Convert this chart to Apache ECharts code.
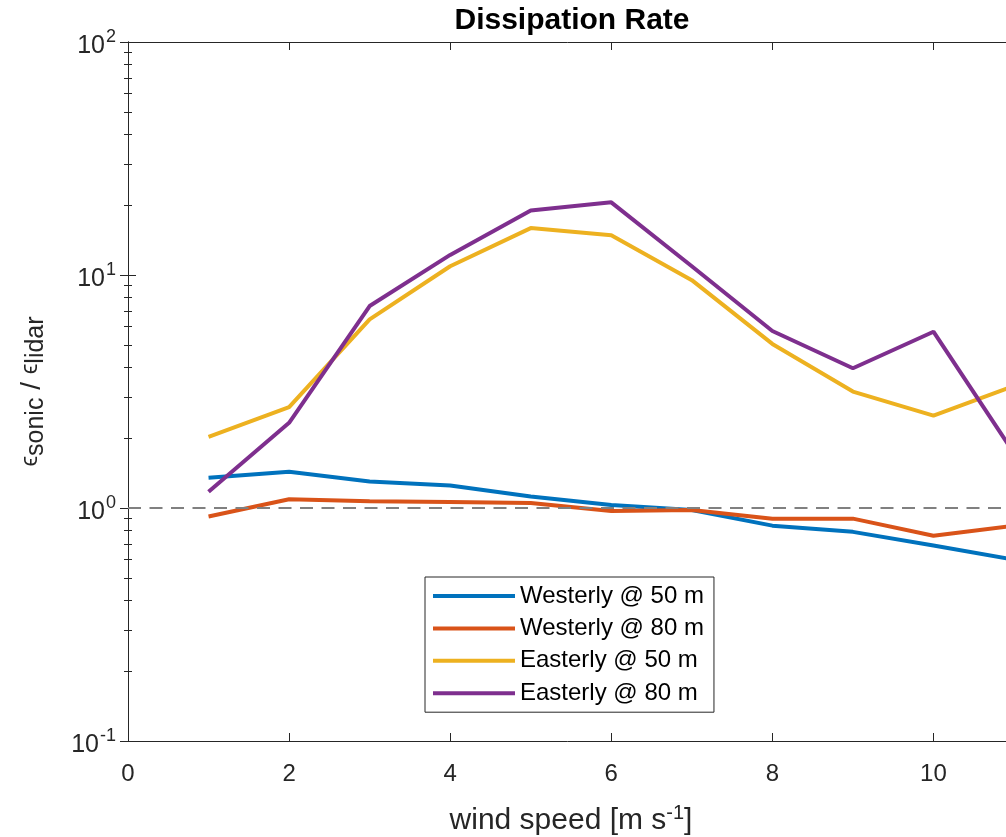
<!DOCTYPE html>
<html>
<head>
<meta charset="utf-8">
<script src="https://cdn.jsdelivr.net/npm/echarts@6/dist/echarts.min.js"></script>
<style>
html,body{margin:0;padding:0;background:#fff;}
#chart{width:1006px;height:837px;}
</style>
</head>
<body>
<div id="chart"></div>
<script>
// ---- data ----
const windSpeed = [1, 2, 3, 4, 5, 6, 7, 8, 9, 10, 11];
const westerly50 = [1.35, 1.43, 1.30, 1.25, 1.12, 1.03, 0.98, 0.84, 0.79, 0.69, 0.60];
const westerly80 = [0.92, 1.09, 1.07, 1.06, 1.05, 0.97, 0.98, 0.90, 0.90, 0.76, 0.84];
const easterly50 = [2.02, 2.71, 6.45, 10.9, 15.9, 14.8, 9.5, 5.06, 3.16, 2.49, 3.34];
const easterly80 = [1.175, 2.32, 7.36, 12.2, 18.9, 20.5, 10.9, 5.75, 3.98, 5.71, 1.72];
const seriesNames = ['Westerly @ 50 m', 'Westerly @ 80 m', 'Easterly @ 50 m', 'Easterly @ 80 m'];
const refX = [0, 11];
const refY = [1, 1];
const xTickValues = [0, 2, 4, 6, 8, 10];

const FONT = '"Liberation Sans", Arial, Helvetica, sans-serif';
const INK = '#262626';
const colors = ['#0072BD', '#D95319', '#EDB120', '#7E2F8E'];

function pairs(xs, ys) { return xs.map((x, i) => [x, ys[i]]); }

const chart = echarts.init(document.getElementById('chart'), null, {renderer: 'canvas'});

const values = [westerly50, westerly80, easterly50, easterly80];
const lineSeries = values.map((v, i) => ({
  name: seriesNames[i],
  type: 'line',
  data: pairs(windSpeed, v),
  showSymbol: false,
  symbol: 'none',
  lineStyle: {color: colors[i], width: 4},
  itemStyle: {color: colors[i]},
  z: 3 + i,
  animation: false
}));

lineSeries.push({
  name: 'ref',
  type: 'line',
  data: pairs(refX, refY),
  showSymbol: false,
  symbol: 'none',
  lineStyle: {color: '#808080', width: 2, type: [13, 8.5]},
  z: 10,
  silent: true,
  animation: false
});

const supLabel = function (value) {
  const e = Math.round(Math.log10(value));
  return '{b|10}{s|' + e + '}';
};

const option = {
  backgroundColor: '#ffffff',
  animation: false,
  title: {
    text: 'Dissipation Rate',
    left: 567,
    textAlign: 'center',
    top: 1,
    textStyle: {fontFamily: FONT, fontWeight: 'bold', fontSize: 30, color: '#000'}
  },
  legend: {
    data: seriesNames,
    orient: 'vertical',
    left: 425,
    top: 577,
    icon: 'rect',
    itemWidth: 82,
    itemHeight: 4,
    itemGap: 8.4,
    padding: [7, 10, 7, 8],
    backgroundColor: '#ffffff',
    borderColor: INK,
    borderWidth: 1,
    borderRadius: 0,
    textStyle: {fontFamily: FONT, fontSize: 24, color: '#000', lineHeight: 24}
  },
  grid: {left: 128, top: 42, right: -8, height: 699, containLabel: false, outerBoundsMode: 'none'},
  xAxis: [{
    type: 'value',
    min: 0, max: 11, interval: 2,
    position: 'bottom',
    axisLine: {show: true, lineStyle: {color: INK, width: 1}},
    axisTick: {show: true, inside: true, length: 8, lineStyle: {color: INK}},
    splitLine: {show: false},
    axisLabel: {
      show: true, margin: 21, showMaxLabel: false,
      fontFamily: FONT, fontSize: 24, color: INK,
      formatter: function (v) { return xTickValues.indexOf(v) >= 0 ? String(v) : ''; }
    },
    name: 'wind speed [m s{sup|-1}]',
    nameLocation: 'middle',
    nameGap: 62,
    nameTextStyle: {
      fontFamily: FONT, fontSize: 30, color: INK,
      rich: {sup: {fontFamily: FONT, fontSize: 20, color: INK, verticalAlign: 'top', padding: [0, 0, 16, 0]}}
    }
  }, {
    type: 'value',
    min: 0, max: 11, interval: 2,
    position: 'top',
    axisLine: {show: true, lineStyle: {color: INK, width: 1}},
    axisTick: {show: true, inside: true, length: 8, lineStyle: {color: INK}},
    splitLine: {show: false},
    axisLabel: {show: false}
  }],
  yAxis: [{
    type: 'log',
    logBase: 10,
    min: 0.1, max: 100,
    position: 'left',
    axisLine: {show: true, lineStyle: {color: INK, width: 1}},
    axisTick: {show: true, inside: true, length: 8, lineStyle: {color: INK}},
    minorTick: {show: true, splitNumber: 9, length: 4, lineStyle: {color: INK}},
    splitLine: {show: false},
    minorSplitLine: {show: false},
    axisLabel: {
      margin: 12,
      formatter: supLabel,
      rich: {
        b: {fontFamily: FONT, fontSize: 25, color: INK, padding: [8, 0, 0, 0]},
        s: {fontFamily: FONT, fontSize: 18, color: INK, padding: [0, 0, 10, 1]}
      }
    },
    name: '{e|ϵ}{sub|sonic}{sl| / }{e|ϵ}{sub|lidar}',
    nameLocation: 'middle',
    nameGap: 74,
    nameRotate: 90,
    nameTextStyle: {
      fontFamily: FONT, fontSize: 28, color: INK,
      rich: {
        e: {fontFamily: FONT, fontSize: 24, color: INK, padding: [0, 0, 12, 0]},
        sl: {fontFamily: FONT, fontSize: 28, color: INK, padding: [0, 0, 8, 0]},
        sub: {fontFamily: FONT, fontSize: 25, color: INK}
      }
    }
  }, {
    type: 'log',
    logBase: 10,
    min: 0.1, max: 100,
    position: 'right',
    axisLine: {show: true, lineStyle: {color: INK, width: 1}},
    axisTick: {show: true, inside: true, length: 8, lineStyle: {color: INK}},
    minorTick: {show: true, splitNumber: 9, length: 4, lineStyle: {color: INK}},
    splitLine: {show: false},
    axisLabel: {show: false}
  }],
  series: lineSeries
};

chart.setOption(option);
</script>
</body>
</html>
